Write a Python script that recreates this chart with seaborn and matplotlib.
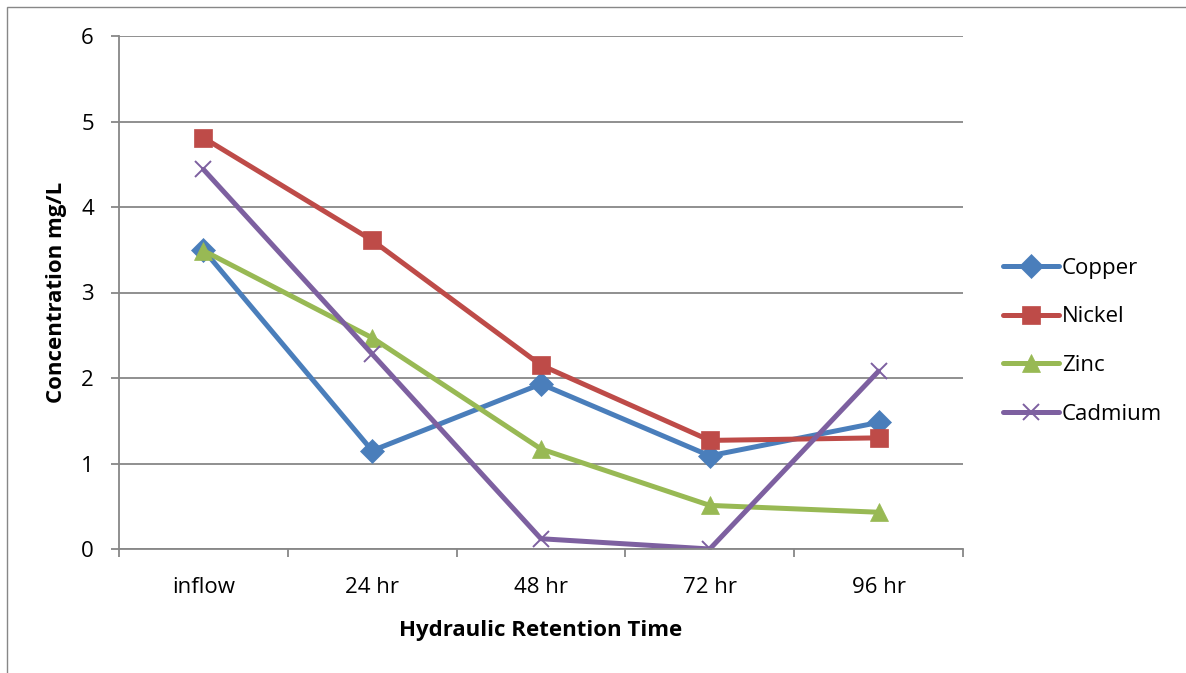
import matplotlib
matplotlib.use("Agg")
import matplotlib.pyplot as plt
from matplotlib.patches import Rectangle
from matplotlib.ticker import FixedLocator
import seaborn as sns

# Heavy metal concentration (mg/L) by hydraulic retention time
categories = ["inflow", "24 hr", "48 hr", "72 hr", "96 hr"]
copper = [3.50, 1.15, 1.93, 1.09, 1.48]
nickel = [4.81, 3.61, 2.15, 1.27, 1.30]
zinc = [3.49, 2.47, 1.17, 0.51, 0.43]
cadmium = [4.44, 2.28, 0.12, 0.00, 2.08]

series = [
    ("Copper", copper, "#4A7EBB", "D", 12),
    ("Nickel", nickel, "#BE4B48", "s", 12.5),
    ("Zinc", zinc, "#98B954", "^", 13),
    ("Cadmium", cadmium, "#7D60A0", "x", 12),
]

sns.set_theme(style="white")
plt.rcParams["font.family"] = ["Open Sans", "DejaVu Sans"]
plt.rcParams["text.color"] = "black"
plt.rcParams["axes.labelcolor"] = "black"

fig = plt.figure(figsize=(11.86, 6.73), dpi=100)
ax = fig.add_axes([119 / 1186, 1 - 549 / 673, (963 - 119) / 1186, (549 - 36) / 673])

for name, vals, color, marker, ms in series:
    sns.lineplot(
        x=categories, y=vals, ax=ax, color=color, label=name,
        marker=marker, markersize=ms, linewidth=3.6,
        markeredgecolor=color, markeredgewidth=1.4 if marker == "x" else 0.5,
        sort=False,
    )

grid_c = "#878787"
ax.set_xlim(-0.5, 4.5)
ax.set_ylim(0, 6)
ax.set_yticks(range(0, 7))
ax.yaxis.grid(True, color=grid_c, linewidth=1.3)
ax.xaxis.grid(False)
ax.set_axisbelow(True)

for side in ["top", "right"]:
    ax.spines[side].set_visible(False)
for side in ["left", "bottom"]:
    ax.spines[side].set_color(grid_c)
    ax.spines[side].set_linewidth(1.3)

ax.tick_params(axis="y", which="major", left=True, length=6, width=1.3,
               color=grid_c, pad=12, labelsize=16, labelcolor="black")
ax.tick_params(axis="x", which="major", bottom=False, length=0, pad=20,
               labelsize=16, labelcolor="black")
ax.xaxis.set_minor_locator(FixedLocator([-0.5, 0.5, 1.5, 2.5, 3.5, 4.5]))
ax.tick_params(axis="x", which="minor", bottom=True, length=6, width=1.3,
               color=grid_c, direction="out")

ax.set_xlabel("Hydraulic Retention Time", fontsize=16, fontweight="bold",
              labelpad=16, color="black")
ax.set_ylabel("Concentration mg/L", fontsize=16, fontweight="bold",
              labelpad=10, color="black")

leg = ax.legend(loc="center left", bbox_to_anchor=(1.037, 0.405), frameon=False,
                fontsize=16, handlelength=2.5, handletextpad=0.15,
                labelspacing=1.25, borderaxespad=0, labelcolor="black")

# chart-area border
fig.add_artist(Rectangle((7 / 1186, -0.2), 1.5, 1 - 7 / 673 + 0.2,
                         transform=fig.transFigure, fill=False,
                         edgecolor=grid_c, linewidth=1.0))

fig.savefig("out.png", dpi=100)
